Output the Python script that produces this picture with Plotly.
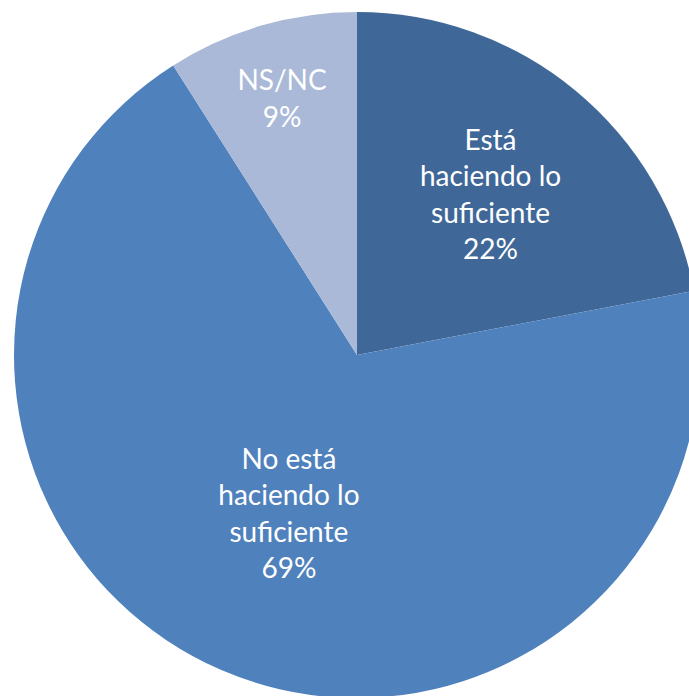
import plotly.graph_objects as go

labels = ["Está<br>haciendo lo<br>suficiente", "No está<br>haciendo lo<br>suficiente", "NS/NC"]
values = [22, 69, 9]
colors = ["#3F6899", "#4F81BD", "#AAB9D7"]

W, H = 701, 700
cx, cy, r = 357, 355, 343

fig = go.Figure(go.Pie(
    labels=labels,
    values=values,
    sort=False,
    direction="clockwise",
    rotation=0,
    marker=dict(colors=colors, line=dict(width=0)),
    texttemplate="%{label}<br>%{percent:.0%}",
    textinfo="text",
    textposition="inside",
    insidetextorientation="horizontal",
    textfont=dict(family="Lato", size=28, color="white"),
    hoverinfo="label+percent",
    showlegend=False,
    domain=dict(x=[(cx - r) / W, (cx + r) / W], y=[(H - cy - r) / H, (H - cy + r) / H]),
))

fig.update_layout(
    width=W, height=H,
    margin=dict(l=0, r=0, t=0, b=0),
    paper_bgcolor="white",
    plot_bgcolor="white",
)

fig.write_html("out.html", config={"displayModeBar": False},
               post_script="document.body.style.margin='0';document.body.style.overflow='hidden';")
